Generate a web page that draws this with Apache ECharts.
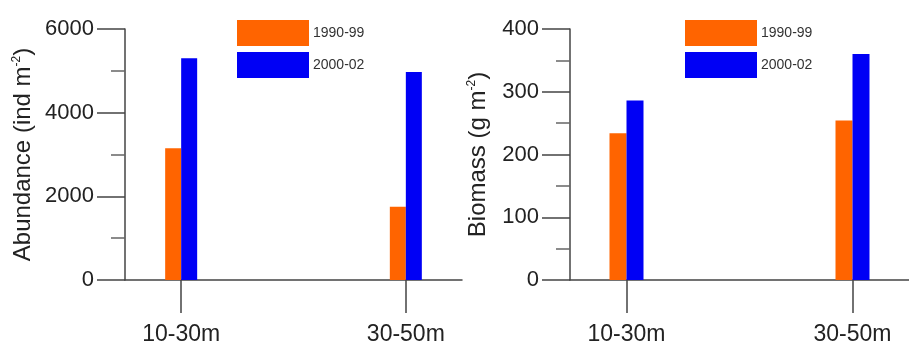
<!DOCTYPE html>
<html>
<head>
<meta charset="utf-8">
<script src="https://cdn.jsdelivr.net/npm/echarts@6/dist/echarts.min.js"></script>
<style>
html,body{margin:0;padding:0;background:#fff;}
#c{width:909px;height:347px;}
</style>
</head>
<body>
<div id="c"></div>
<script>
const categories = ['10-30m', '30-50m'];
const seriesNames = ['1990-99', '2000-02'];
const abundance1990 = [3150, 1750];
const abundance2000 = [5300, 4970];
const biomass1990 = [234, 254];
const biomass2000 = [286, 360];
const abundanceTicks = [0, 2000, 4000, 6000];
const biomassTicks = [0, 100, 200, 300, 400];

const colors = ['#ff6400', '#0000f5'];
const font = '"Liberation Sans", Arial, sans-serif';
const axisColor = '#444';

// spacer category between the two depth classes
const axisCats = [categories[0], '', categories[1]];
function spaced(arr) { return [arr[0], null, arr[1]]; }

const chart = echarts.init(document.getElementById('c'));

function xAxis(gridIndex) {
  return {
    type: 'category', gridIndex, data: axisCats,
    axisLine: { show: true, lineStyle: { color: axisColor, width: 1.5 } },
    axisTick: { show: true, alignWithLabel: true, length: 33, interval: (i) => i !== 1, lineStyle: { color: axisColor, width: 1.5 } },
    axisLabel: { show: true, interval: 0, margin: 43, fontSize: 23, color: '#222', fontFamily: font }
  };
}
function yAxis(gridIndex, ticks, nameRich, nameGap) {
  return {
    type: 'value', gridIndex, min: ticks[0], max: ticks[ticks.length - 1],
    interval: ticks[1] - ticks[0],
    name: nameRich, nameLocation: 'middle', nameGap,
    nameTextStyle: {
      fontSize: 24, color: '#222', fontFamily: font,
      rich: { sup: { fontSize: 12, verticalAlign: 'top', color: '#222', fontFamily: font, padding: [0, 0, 10, 0] } }
    },
    axisLine: { show: true, lineStyle: { color: axisColor, width: 1.5 } },
    axisTick: { show: true, length: 28, lineStyle: { color: axisColor, width: 1.5 } },
    minorTick: { show: true, splitNumber: 2, length: 14, lineStyle: { color: '#666', width: 1.5 } },
    splitLine: { show: false },
    axisLabel: { margin: 31, fontSize: 22, color: '#222', fontFamily: font, formatter: (v) => String(v) }
  };
}
function legend(left) {
  return {
    left, top: 15, orient: 'vertical', itemWidth: 72, itemHeight: 26, itemGap: 6,
    icon: 'rect', data: seriesNames,
    textStyle: { fontSize: 14, color: '#333', fontFamily: font, padding: [0, 0, 0, -1] }
  };
}

chart.setOption({
  animation: false,
  backgroundColor: '#fff',
  legend: [legend(232), legend(680)],
  grid: [
    { left: 125, top: 29, width: 337, height: 251 },
    { left: 570, top: 29, width: 348, height: 251 }
  ],
  xAxis: [xAxis(0), xAxis(1)],
  yAxis: [
    yAxis(0, abundanceTicks, 'Abundance (ind m{sup|-2})', 90),
    yAxis(1, biomassTicks, 'Biomass (g m{sup|-2})', 80)
  ],
  series: [
    { name: seriesNames[0], type: 'bar', xAxisIndex: 0, yAxisIndex: 0, data: spaced(abundance1990), barWidth: 16, barGap: '0%', itemStyle: { color: colors[0] } },
    { name: seriesNames[1], type: 'bar', xAxisIndex: 0, yAxisIndex: 0, data: spaced(abundance2000), barWidth: 16, barGap: '0%', itemStyle: { color: colors[1] } },
    { name: seriesNames[0], type: 'bar', xAxisIndex: 1, yAxisIndex: 1, data: spaced(biomass1990), barWidth: 17, barGap: '0%', itemStyle: { color: colors[0] } },
    { name: seriesNames[1], type: 'bar', xAxisIndex: 1, yAxisIndex: 1, data: spaced(biomass2000), barWidth: 17, barGap: '0%', itemStyle: { color: colors[1] } }
  ]
});
</script>
</body>
</html>
